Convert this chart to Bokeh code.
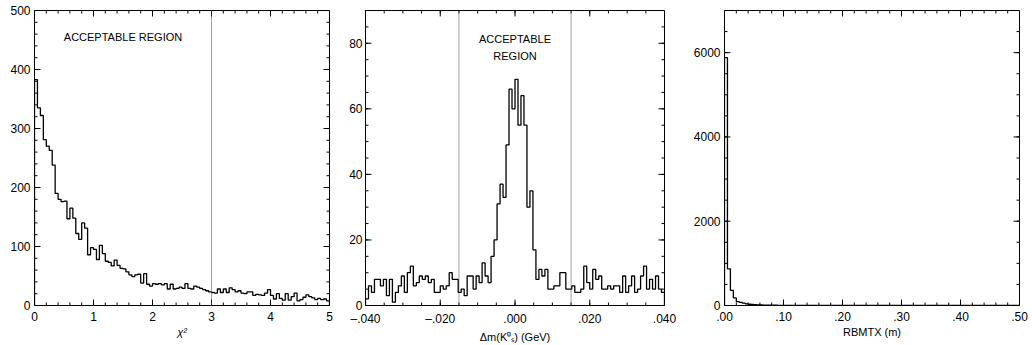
import numpy as np
from bokeh.plotting import figure
from bokeh.layouts import row
from bokeh.models import Range1d, FixedTicker, Span, Label, ColumnDataSource, Arrow
from bokeh.embed import file_html
from bokeh.resources import INLINE

# ---------------- data ----------------
chi2_range = (0.0, 5.0)
chi2_counts = [383, 335, 322, 281, 270, 263, 238, 190, 180, 176,
               177, 147, 165, 148, 122, 112, 140, 131, 86, 98,
               95, 78, 102, 88, 75, 73, 67, 77, 68, 63,
               62, 57, 52, 49, 52, 53, 38, 54, 36, 33,
               37, 36, 37, 35, 37, 28, 36, 28, 29, 31,
               29, 37, 29, 28, 33, 31, 29, 27, 25, 23,
               22, 21, 28, 22, 28, 22, 30, 27, 23, 25,
               21, 20, 23, 23, 17, 19, 18, 17, 21, 27,
               17, 11, 20, 12, 9, 20, 9, 15, 21, 8,
               10, 14, 18, 15, 13, 10, 12, 10, 11, 8]
chi2_cut = 3.0
chi2_xticks = [0, 1, 2, 3, 4, 5]
chi2_yticks = [0, 100, 200, 300, 400, 500]

dm_range = (-0.04, 0.04)
dm_counts = [2, 6, 4, 8, 8, 6, 8, 3, 8, 1,
             4, 6, 9, 4, 10, 12, 6, 7, 9, 8,
             9, 7, 8, 4, 4, 6, 5, 6, 10, 8,
             8, 4, 5, 3, 9, 9, 5, 9, 7, 13,
             9, 7, 15, 20, 31, 37, 33, 49, 66, 60,
             69, 55, 64, 55, 30, 35, 17, 8, 11, 9,
             11, 5, 5, 6, 6, 10, 10, 5, 5, 6,
             4, 4, 5, 12, 7, 5, 11, 8, 9, 5,
             5, 6, 5, 6, 6, 4, 9, 4, 6, 9,
             4, 5, 9, 12, 5, 8, 5, 9, 5, 4]
dm_cuts = [-0.015, 0.015]
dm_xticks = [-0.04, -0.02, 0.0, 0.02, 0.04]
dm_xlabels = ["\u2013.040", "\u2013.020", ".000", ".020", ".040"]
dm_yticks = [0, 20, 40, 60, 80]

rb_range = (0.0, 0.5)
rb_counts = [5880, 870, 360, 180, 90, 75, 55, 40, 30, 25,
             20, 16, 13, 11, 9, 8, 7, 6, 5, 5,
             4, 4, 3, 3, 3, 2, 2, 2, 2, 1,
             2, 1, 1, 1, 2, 1, 1, 0, 1, 1,
             1, 0, 1, 0, 0, 1, 0, 0, 1, 0,
             0, 0, 1, 0, 0, 0, 0, 1, 0, 0,
             0, 0, 0, 0, 1, 0, 0, 0, 0, 0,
             0, 0, 0, 0, 0, 0, 0, 0, 0, 0,
             0, 0, 0, 0, 0, 0, 0, 0, 0, 0,
             0, 0, 0, 0, 0, 0, 0, 0, 0, 0]
rb_xticks = [0.0, 0.1, 0.2, 0.3, 0.4, 0.5]
rb_xlabels = [".00", ".10", ".20", ".30", ".40", ".50"]
rb_yticks = [0, 2000, 4000, 6000]

FONT = "Liberation Sans"
CUT_COLOR = "#444444"
H = 345


def step_xy(counts, lo, hi):
    edges = np.linspace(lo, hi, len(counts) + 1)
    xs, ys = [float(edges[0])], [0.0]
    for i, c in enumerate(counts):
        xs += [float(edges[i]), float(edges[i + 1])]
        ys += [float(c), float(c)]
    xs.append(float(edges[-1]))
    ys.append(0.0)
    return xs, ys


def style_axis(ax):
    ax.axis_line_color = "black"
    ax.major_tick_in = 0
    ax.major_tick_out = 0
    ax.minor_tick_in = 0
    ax.minor_tick_out = 0
    ax.major_label_text_font = FONT
    ax.major_label_text_font_size = "12px"
    ax.major_label_text_color = "black"
    ax.axis_label_text_font = FONT
    ax.axis_label_text_font_size = "11px"
    ax.axis_label_text_font_style = "normal"
    ax.axis_label_text_color = "black"


def tick_source(xr, yr, fw, fh, xmaj, xmin, ymaj, ymin):
    dx = (xr[1] - xr[0]) / fw
    dy = (yr[1] - yr[0]) / fh
    x0, y0, x1, y1 = [], [], [], []
    for ticks, L in ((xmaj, 6), (xmin, 3)):
        for t in ticks:
            t = float(t)
            x0 += [t, t]
            x1 += [t, t]
            y0 += [float(yr[0]), float(yr[1])]
            y1 += [float(yr[0] + L * dy), float(yr[1] - L * dy)]
    for ticks, L in ((ymaj, 6), (ymin, 3)):
        for t in ticks:
            t = float(t)
            y0 += [t, t]
            y1 += [t, t]
            x0 += [float(xr[0]), float(xr[1])]
            x1 += [float(xr[0] + L * dx), float(xr[1] - L * dx)]
    return ColumnDataSource(data=dict(x0=x0, y0=y0, x1=x1, y1=y1))


def ticks_arrow(p, src):
    p.add_layout(Arrow(end=None, x_start="x0", y_start="y0", x_end="x1", y_end="y1",
                       source=src, line_color="black", line_width=1))


def make_panel(width, borders, xr, yr, xticks, yticks, xlabel,
               xoverrides=None, ystandoff=4):
    left, right, top, bottom = borders
    p = figure(width=width, height=H, x_range=Range1d(*xr), y_range=Range1d(*yr),
               output_backend="svg", toolbar_location=None,
               min_border_left=left, min_border_right=right,
               min_border_top=top, min_border_bottom=bottom)
    p.xgrid.visible = False
    p.ygrid.visible = False
    p.outline_line_color = "black"

    xa = p.xaxis[0]
    ya = p.yaxis[0]
    xa.ticker = FixedTicker(ticks=xticks)
    ya.ticker = FixedTicker(ticks=yticks)
    style_axis(xa)
    style_axis(ya)
    xa.major_label_standoff = 6
    xa.axis_label_standoff = 2
    ya.major_label_standoff = ystandoff
    xa.axis_label = xlabel
    if xoverrides:
        xa.major_label_overrides = xoverrides
    return p


# ---------------- panel 1: chi2 ----------------
p1 = make_panel(346, (34, 17, 10, 40), chi2_range, (0, 500),
                chi2_xticks, chi2_yticks, "\u03c7\u00b2")
p1.xaxis[0].axis_label_text_font_style = "italic"
xs, ys = step_xy(chi2_counts, *chi2_range)
p1.line(xs, ys, line_color="black", line_width=1.3)
ticks_arrow(p1, tick_source(chi2_range, (0, 500), 295, 295, chi2_xticks,
                            np.arange(0, 5.001, 0.2), chi2_yticks, np.arange(0, 500.1, 20)))
p1.add_layout(Span(location=chi2_cut, dimension="height", line_color=CUT_COLOR,
                   line_dash="1 1", line_width=1))
p1.add_layout(Label(x=1.5, y=455, text="ACCEPTABLE REGION", text_align="center",
                    text_baseline="middle", text_font=FONT, text_font_size="11px",
                    text_color="black"))

# ---------------- panel 2: delta m ----------------
p2 = make_panel(344, (18, 26, 7, 39), dm_range, (0, 90),
                dm_xticks, dm_yticks, "\u0394m(K\u2070\u209b) (GeV)",
                xoverrides=dict(zip(dm_xticks, dm_xlabels)), ystandoff=3)
xs, ys = step_xy(dm_counts, *dm_range)
p2.line(xs, ys, line_color="black", line_width=1.3)
src2 = tick_source(dm_range, (0, 90), 300, 299, dm_xticks,
                   np.arange(-0.04, 0.0401, 0.005), dm_yticks, np.arange(0, 90.1, 5))
p2.segment(x0="x0", y0="y0", x1="x1", y1="y1", source=src2,
           line_color="black", line_width=1)
for c in dm_cuts:
    p2.add_layout(Span(location=c, dimension="height", line_color=CUT_COLOR,
                       line_dash="1 1", line_width=1))
p2.add_layout(Label(x=0.0, y=81.4, text="ACCEPTABLE", text_align="center",
                    text_baseline="middle", text_font=FONT, text_font_size="11px",
                    text_color="black"))
p2.add_layout(Label(x=0.0, y=76.2, text="REGION", text_align="center",
                    text_baseline="middle", text_font=FONT, text_font_size="11px",
                    text_color="black"))

# ---------------- panel 3: RBMTX ----------------
p3 = make_panel(342, (31, 13, 7, 40), rb_range, (0, 7000),
                rb_xticks, rb_yticks, "RBMTX (m)",
                xoverrides=dict(zip(rb_xticks, rb_xlabels)))
xs, ys = step_xy(rb_counts, *rb_range)
p3.line(xs, ys, line_color="black", line_width=1.3)
ticks_arrow(p3, tick_source(rb_range, (0, 7000), 298, 298, rb_xticks,
                            np.arange(0, 0.5001, 0.02), rb_yticks, np.arange(0, 7000.1, 500)))

layout = row(p1, p2, p3)
open("out.html", "w").write(file_html(layout, INLINE))
